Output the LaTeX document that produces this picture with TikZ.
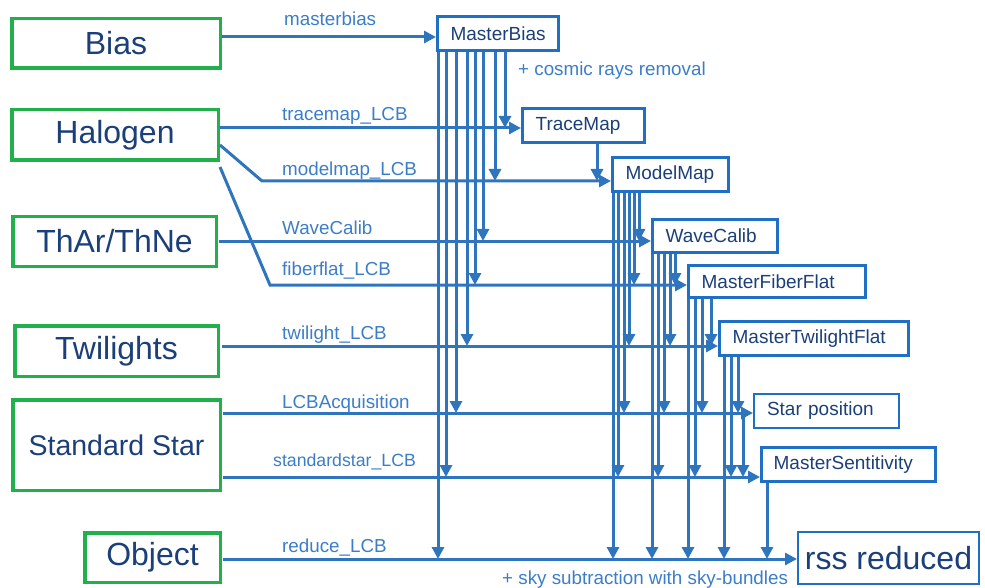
\documentclass[tikz,border=0pt]{standalone}
\usepackage{fontspec}
\setmainfont{Liberation Sans}
\usetikzlibrary{arrows.meta}
\definecolor{gbox}{RGB}{33,176,75}
\definecolor{bline}{RGB}{47,117,190}
\definecolor{bbox}{RGB}{31,111,197}
\definecolor{lbl}{RGB}{59,125,200}
\definecolor{dtext}{RGB}{27,63,120}
\tikzset{
  conn/.style={draw=bline, line width=3pt, -{Triangle[length=12pt,width=12pt]}},
  src/.style={draw=gbox, line width=3.5pt, text=dtext, font=\fontsize{32}{36}\selectfont, inner sep=0pt, anchor=north west},
  proc/.style={draw=bbox, line width=3.2pt, text=dtext, font=\fontsize{19}{22}\selectfont, inner ysep=0pt, inner xsep=13pt, align=left, anchor=north west},
  lab/.style={text=lbl, font=\fontsize{18.8}{21}\selectfont, inner sep=0pt, anchor=base west},
}
\newcommand\vdrop[3]{\draw[conn] (#1,0 |- #2.south) -- (#1,0 |- #3);}
\begin{document}
\begin{tikzpicture}[x=1pt,y=-1pt]
\useasboundingbox (0,0) rectangle (985,588);
% source boxes
\node[src, minimum width=208.5pt, minimum height=49.5pt] (bias) at (10,17) {Bias};
\node[src, minimum width=206.5pt, minimum height=50.5pt] (halo) at (10,108) {Halogen};
\node[src, minimum width=203.5pt, minimum height=49.5pt] (thar) at (11,215) {ThAr/ThNe};
\node[src, minimum width=203.5pt, minimum height=50.5pt] (twi) at (13,324) {Twilights};
\node[src, minimum width=207.5pt, minimum height=90.5pt, font=\fontsize{28.5}{32}\selectfont] (std) at (11,398) {Standard Star};
\node[src, minimum width=135.5pt, minimum height=49.5pt] (obj) at (83,531) {Object};
% process boxes
\node[proc, text width=94.8pt, minimum height=33.8pt] (mb) at (436,15) {MasterBias};
\node[proc, text width=95.8pt, minimum height=33.8pt] (tm) at (521,107) {TraceMap};
\node[proc, text width=89.8pt, minimum height=33.8pt] (mm) at (611,156) {ModelMap};
\node[proc, text width=98.8pt, minimum height=32.8pt] (wc) at (651,218) {WaveCalib};
\node[proc, text width=150.8pt, minimum height=31.8pt] (mff) at (687,264) {MasterFiberFlat};
\node[proc, text width=162.8pt, minimum height=33.8pt] (mtf) at (718,320) {MasterTwilightFlat};
\node[proc, line width=2pt, text width=119pt, minimum height=34pt] (star) at (753,393) {Star position};
\node[proc, inner xsep=12pt, text width=149.8pt, minimum height=33.8pt] (ms) at (760,446) {MasterSentitivity};
\node[proc, line width=2pt, inner xsep=0pt, align=center, minimum width=181pt, minimum height=52pt, font=\fontsize{32}{36}\selectfont] (rss) at (797,531) {rss reduced};
% line start / bend points
\coordinate (L1) at (222,37);
\coordinate (L2) at (220,128);
\coordinate (L3s) at (220,145);
\coordinate (L3) at (262,181);
\coordinate (L4) at (219,241);
\coordinate (L5s) at (220,167);
\coordinate (L5) at (270,285);
\coordinate (L6) at (222,346);
\coordinate (L7) at (223,413);
\coordinate (L8) at (223,477);
\coordinate (L9) at (223,559);
% horizontal connectors
\draw[conn] (L1) -- (L1 -| mb.west);
\draw[conn] (L2) -- (L2 -| tm.west);
\draw[conn] (L3s) -- (L3) -- (L3 -| mm.west);
\draw[conn] (L4) -- (L4 -| wc.west);
\draw[conn] (L5s) -- (L5) -- (L5 -| mff.west);
\draw[conn] (L6) -- (L6 -| mtf.west);
\draw[conn] (L7) -- (L7 -| star.west);
\draw[conn] (L8) -- (L8 -| ms.west);
\draw[conn] (L9) -- (L9 -| rss.west);
% vertical drops from MasterBias
\vdrop{505}{mb}{L2}
\vdrop{495}{mb}{L3}
\vdrop{483}{mb}{L4}
\vdrop{475}{mb}{L5}
\vdrop{467}{mb}{L6}
\vdrop{456}{mb}{L7}
\vdrop{446}{mb}{L8}
\vdrop{438}{mb}{L9}
% TraceMap
\vdrop{597}{tm}{L3}
% ModelMap
\vdrop{639}{mm}{L4}
\vdrop{634}{mm}{L5}
\vdrop{629}{mm}{L6}
\vdrop{624}{mm}{L7}
\vdrop{618}{mm}{L8}
\vdrop{613}{mm}{L9}
% WaveCalib
\vdrop{675}{wc}{L5}
\vdrop{670}{wc}{L6}
\vdrop{664}{wc}{L7}
\vdrop{658}{wc}{L8}
\vdrop{652}{wc}{L9}
% MasterFiberFlat
\vdrop{711}{mff}{L6}
\vdrop{702}{mff}{L7}
\vdrop{695}{mff}{L8}
\vdrop{688}{mff}{L9}
% MasterTwilightFlat
\vdrop{738}{mtf}{L7}
\vdrop{731}{mtf}{L8}
\vdrop{724}{mtf}{L9}
% Star position
\draw[conn] (743,0 |- L7) -- (743,0 |- L8);
% MasterSentitivity
\vdrop{767}{ms}{L9}
% labels
\node[lab] (t1) at (284,26) {masterbias};
\node[lab] (t2) at (518,76) {+ cosmic rays removal};
\node[lab] (t3) at (282,121) {tracemap\_LCB};
\node[lab] (t4) at (282,176) {modelmap\_LCB};
\node[lab] (t5) at (282,234) {WaveCalib};
\node[lab] (t6) at (282,275) {fiberflat\_LCB};
\node[lab] (t7) at (282,339) {twilight\_LCB};
\node[lab] (t8) at (282,408) {LCBAcquisition};
\node[lab, font=\fontsize{17.7}{20}\selectfont] (t9) at (273,466.5) {standardstar\_LCB};
\node[lab] (t10) at (282,552) {reduce\_LCB};
\node[lab] (t11) at (502,584) {+ sky subtraction with sky-bundles};
\end{tikzpicture}
\end{document}
